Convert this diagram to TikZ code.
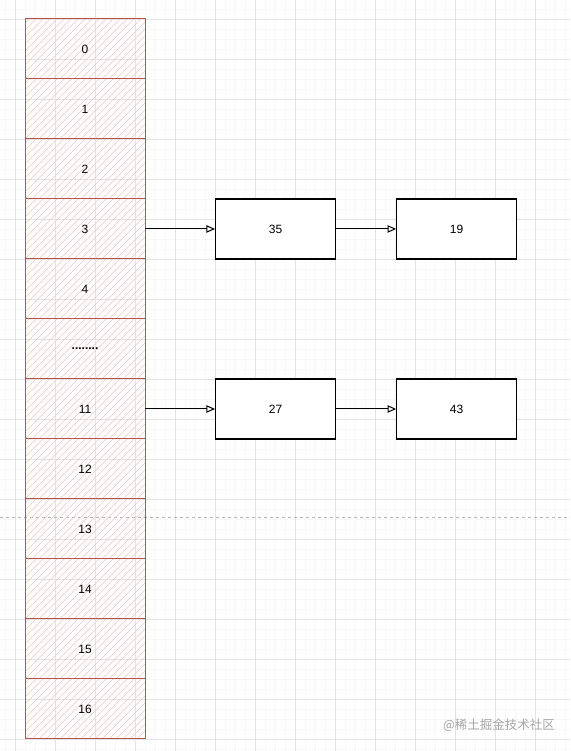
\documentclass[tikz,border=0pt]{standalone}
\usepackage{fontspec}
\setmainfont{Liberation Sans}
\newfontfamily\cjk{Noto Sans CJK SC}
\usepackage{tikz}
\usetikzlibrary{arrows.meta,positioning}
\definecolor{cellred}{RGB}{184,84,80}
\definecolor{hatchred}{RGB}{244,200,200}

\begin{document}
\begin{tikzpicture}[
  x=1pt, y=1pt,
  font=\fontsize{12}{14}\selectfont,
  cell/.style={rectangle, outer sep=0pt,
    minimum width=120pt, minimum height=60pt,
    path picture={\foreach \k in {-63,-56,...,120}
      \draw[hatchred, line width=0.5pt] ([xshift=\k pt]path picture bounding box.south west) -- ++(70,70);}},
  border/.style={cellred, line width=1pt},
  entry/.style={draw, line width=1.1pt, rectangle, fill=white,
    minimum width=120pt, minimum height=60pt},
  link/.style={-{Triangle[open, length=3mm, width=2.6mm]}, line width=1pt}
]
\useasboundingbox (0,0) rectangle (570,751);
\fill[white] (0,0) rectangle (570,751);
% background grid
\draw[black!3, line width=0.4pt, shift={(15,12)}, step=10] (-15,-12) grid (555,739);
\draw[black!11, line width=0.6pt, shift={(15,12)}, step=40] (-15,-12) grid (555,739);
\draw[black!30, dashed, line width=0.6pt] (0,234) -- (570,234);

% table
\node[cell] (c0) at (85,702) {0};
\node[cell, below=0pt of c0] (c1) {1};
\node[cell, below=0pt of c1] (c2) {2};
\node[cell, below=0pt of c2] (c3) {3};
\node[cell, below=0pt of c3] (c4) {4};
\node[cell, below=0pt of c4] (cdots) {\textbf{........}};
\node[cell, below=0pt of cdots] (c11) {11};
\node[cell, below=0pt of c11] (c12) {12};
\node[cell, below=0pt of c12] (c13) {13};
\node[cell, below=0pt of c13] (c14) {14};
\node[cell, below=0pt of c14] (c15) {15};
\node[cell, below=0pt of c15] (c16) {16};
\foreach \c in {c0,c1,c2,c3,c4,cdots,c11,c12,c13,c14,c15,c16}
  \draw[border] (\c.north west) rectangle (\c.south east);

% chains
\node[entry, right=70pt of c3] (n35) {35};
\node[entry, right=60pt of n35] (n19) {19};
\node[entry, right=70pt of c11] (n27) {27};
\node[entry, right=60pt of n27] (n43) {43};

\draw[link] (c3) -- (n35);
\draw[link] (n35) -- (n19);
\draw[link] (c11) -- (n27);
\draw[link] (n27) -- (n43);

\node[black!35, font=\cjk\fontsize{12.5}{14}\selectfont] (mark) at (499,26) {@稀土掘金技术社区};
\end{tikzpicture}
\end{document}
